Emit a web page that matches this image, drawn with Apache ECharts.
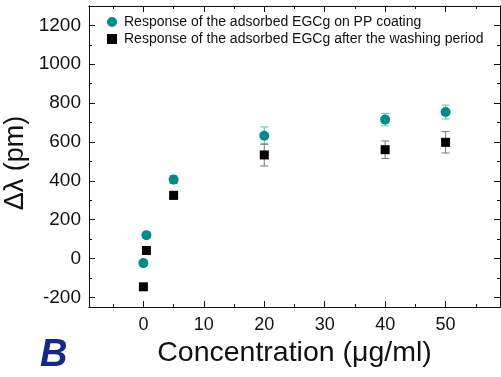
<!DOCTYPE html>
<html>
<head>
<meta charset="utf-8">
<script src="https://cdn.jsdelivr.net/npm/echarts@6/dist/echarts.min.js"></script>
<style>
  html, body { margin: 0; padding: 0; background: #fff; }
  #chart { width: 501px; height: 377px; }
</style>
</head>
<body>
<div id="chart"></div>
<script>
// concentration (µg/ml)
var concentrations = [0, 0.5, 5, 20, 40, 50]
// response on PP coating
var coatingValues = [-24, 120, 406, 632, 715, 754]
var coatingErrors = [8, 10, 20, 45, 32, 36]
// response after washing
var washedValues = [-146, 41, 325, 533, 560, 598]
var washedErrors = [8, 10, 20, 57, 45, 55]

var xMajorTicks = [0, 10, 20, 30, 40, 50]
var xMinorTicks = [-5, 5, 15, 25, 35, 45, 55]
var yMajorTicks = [-200, 0, 200, 400, 600, 800, 1000, 1200]
var yMinorTicks = [-100, 100, 300, 500, 700, 900, 1100]

var teal = '#008b8b'
var font = '"Liberation Sans", Arial, sans-serif'

function pairs(xs, ys) {
  return xs.map(function (x, i) { return [x, ys[i]] })
}
function errPairs(xs, ys, es) {
  return xs.map(function (x, i) { return [x, ys[i] - es[i], ys[i] + es[i]] })
}

function errorBar(color) {
  return function (params, api) {
    var x = api.value(0)
    var lo = api.coord([x, api.value(1)])
    var hi = api.coord([x, api.value(2)])
    var w = 4
    var style = { stroke: color, lineWidth: 1 }
    return {
      type: 'group',
      children: [
        { type: 'line', shape: { x1: lo[0], y1: lo[1], x2: hi[0], y2: hi[1] }, style: style },
        { type: 'line', shape: { x1: lo[0] - w, y1: lo[1], x2: lo[0] + w, y2: lo[1] }, style: style },
        { type: 'line', shape: { x1: hi[0] - w, y1: hi[1], x2: hi[0] + w, y2: hi[1] }, style: style }
      ]
    }
  }
}

var chart = echarts.init(document.getElementById('chart'))

var xBase = { type: 'value', min: -9, max: 59, splitLine: { show: false } }
var yBase = { type: 'value', min: -250, max: 1300, splitLine: { show: false } }
var lineStyle = { color: '#111', width: 1 }

function xAxisDef(pos, ticks, len, labels) {
  return Object.assign({}, xBase, {
    position: pos,
    axisLine: { show: true, onZero: false, lineStyle: lineStyle },
    axisTick: { show: true, inside: true, length: len, customValues: ticks, lineStyle: lineStyle },
    axisLabel: labels ? {
      show: true, customValues: ticks, margin: 9, fontSize: 18, color: '#111', fontFamily: font,
      formatter: function (v) { return String(v) }
    } : { show: false }
  })
}
function yAxisDef(pos, ticks, len, labels) {
  return Object.assign({}, yBase, {
    position: pos,
    axisLine: { show: true, onZero: false, lineStyle: lineStyle },
    axisTick: { show: true, inside: true, length: len, customValues: ticks, lineStyle: lineStyle },
    axisLabel: labels ? {
      show: true, customValues: ticks, margin: 8, fontSize: 19, color: '#111', fontFamily: font,
      formatter: function (v) { return String(v) }
    } : { show: false }
  })
}

var xAxes = [
  xAxisDef('bottom', xMajorTicks, 6, true),
  xAxisDef('bottom', xMinorTicks, 3, false),
  xAxisDef('top', xMajorTicks, 6, false),
  xAxisDef('top', xMinorTicks, 3, false)
]
xAxes[0].name = 'Concentration (\u03bcg/ml)'
xAxes[0].nameLocation = 'middle'
xAxes[0].nameGap = 26
xAxes[0].nameTextStyle = { fontSize: 28.5, color: '#111', fontFamily: font }

var yAxes = [
  yAxisDef('left', yMajorTicks, 6, true),
  yAxisDef('left', yMinorTicks, 3, false),
  yAxisDef('right', yMajorTicks, 6, false),
  yAxisDef('right', yMinorTicks, 3, false)
]

var option = {
  animation: false,
  backgroundColor: '#fff',
  grid: { left: 89, top: 6, right: 1, bottom: 70, containLabel: false },
  legend: {
    left: 102,
    top: 10,
    orient: 'vertical',
    itemWidth: 10,
    itemHeight: 10,
    itemGap: 3,
    textStyle: { fontSize: 14, color: '#111', fontFamily: font, padding: [0, 0, 0, 2] },
    data: [
      { name: 'Response of the adsorbed EGCg on PP coating', icon: 'circle' },
      { name: 'Response of the adsorbed EGCg after the washing period', icon: 'rect' }
    ]
  },
  xAxis: xAxes,
  yAxis: yAxes,
  graphic: [
    {
      type: 'text',
      x: 16,
      y: 163,
      rotation: Math.PI / 2,
      style: {
        text: '\u0394\u03bb (pm)',
        font: '27px "Liberation Sans", Arial, sans-serif',
        fill: '#111',
        align: 'center',
        verticalAlign: 'middle'
      }
    },
    {
      type: 'text',
      left: 40,
      top: 337,
      style: {
        text: 'B',
        font: 'italic bold 38px "Liberation Sans", Arial, sans-serif',
        fill: '#13288a'
      }
    }
  ],
  series: [
    {
      type: 'custom',
      renderItem: errorBar('#6fb8b8'),
      data: errPairs(concentrations, coatingValues, coatingErrors),
      encode: { x: 0, y: [1, 2] },
      silent: true,
      z: 1
    },
    {
      type: 'custom',
      renderItem: errorBar('#777'),
      data: errPairs(concentrations, washedValues, washedErrors),
      encode: { x: 0, y: [1, 2] },
      silent: true,
      z: 1
    },
    {
      name: 'Response of the adsorbed EGCg on PP coating',
      type: 'scatter',
      symbol: 'circle',
      symbolSize: 10,
      itemStyle: { color: teal, opacity: 1 },
      data: pairs(concentrations, coatingValues),
      z: 3
    },
    {
      name: 'Response of the adsorbed EGCg after the washing period',
      type: 'scatter',
      symbol: 'rect',
      symbolSize: 9,
      itemStyle: { color: '#000', opacity: 1 },
      data: pairs(concentrations, washedValues),
      z: 3
    }
  ]
}
chart.setOption(option)
</script>
</body>
</html>
